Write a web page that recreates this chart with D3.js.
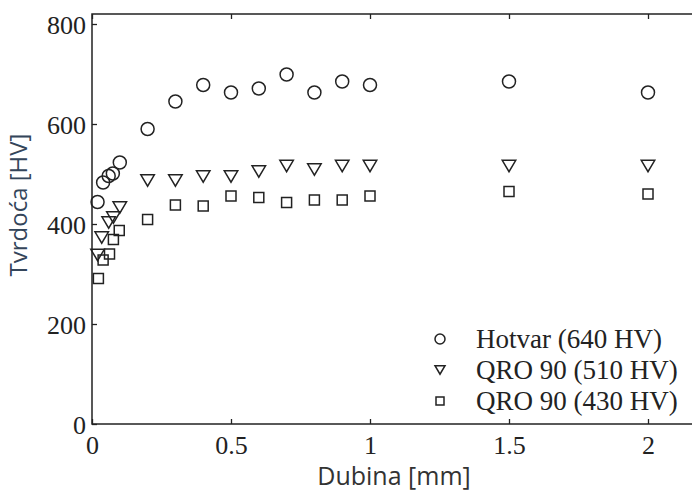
<!DOCTYPE html>
<html lang="en">
<head>
<meta charset="UTF-8">
<title>Tvrdoća vs dubina</title>
<style>
    body { margin: 0; background: #fff; }
    .tick text { font-family: "Liberation Serif", "Times New Roman", serif; font-size: 26px; fill: #222; }
    .title { font-family: "Open Sans", "Noto Sans", sans-serif; font-size: 25px; }
    .legend text { font-family: "Liberation Serif", "Times New Roman", serif; font-size: 27px; fill: #222; }
</style>
</head>
<body>
<div id="chart"></div>
<script src="https://d3js.org/d3.v7.min.js"></script>
<script>
    // depth [mm] and hardness [HV]
    const hotvarDepth = [0.02, 0.04, 0.06, 0.075, 0.1, 0.2, 0.3, 0.4, 0.5, 0.6, 0.7, 0.8, 0.9, 1.0, 1.5, 2.0];
    const hotvarHV    = [444, 483, 496, 501, 523, 590, 645, 678, 663, 671, 699, 663, 685, 678, 685, 663];

    const qro510Depth = [0.02, 0.035, 0.06, 0.077, 0.1, 0.2, 0.3, 0.4, 0.5, 0.6, 0.7, 0.8, 0.9, 1.0, 1.5, 2.0];
    const qro510HV    = [338, 373, 403, 413, 433, 487, 487, 495, 495, 505, 516, 509, 516, 516, 516, 516];

    const qro430Depth = [0.023, 0.04, 0.063, 0.077, 0.098, 0.2, 0.3, 0.4, 0.5, 0.6, 0.7, 0.8, 0.9, 1.0, 1.5, 2.0];
    const qro430HV    = [291, 328, 340, 369, 387, 409, 438, 436, 456, 453, 443, 448, 448, 456, 465, 460];

    const xTicks = [0, 0.5, 1, 1.5, 2];
    const yTicks = [0, 200, 400, 600, 800];
    const legendLabels = ["Hotvar (640 HV)", "QRO 90 (510 HV)", "QRO 90 (430 HV)"];

    const W = 692, H = 491;
    const svg = d3.select("#chart").append("svg")
        .attr("width", W)
        .attr("height", H);

    const x = d3.scaleLinear().domain([0, 2.2]).range([92, 92 + 278 * 2.2]);
    const y = d3.scaleLinear().domain([0, 820]).range([424, 14]);

    const ink = "#222";

    // frame
    svg.append("rect")
        .attr("x", x(0)).attr("y", y(820))
        .attr("width", x(2.2) - x(0)).attr("height", y(0) - y(820))
        .attr("fill", "none").attr("stroke", ink).attr("stroke-width", 1.5);

    // axes, ticks pointing inward, mirrored on the top edge
    const xAxis = svg.append("g")
        .attr("transform", `translate(0,${y(0)})`)
        .call(d3.axisBottom(x).tickValues(xTicks).tickSize(-5).tickPadding(10)
            .tickFormat(d => d === 0 ? "0" : d3.format("")(d)));
    const xTop = svg.append("g")
        .attr("transform", `translate(0,${y(820)})`)
        .call(d3.axisTop(x).tickValues(xTicks).tickSize(-5).tickFormat(""));
    const yAxis = svg.append("g")
        .attr("transform", `translate(${x(0)},0)`)
        .call(d3.axisLeft(y).tickValues(yTicks).tickSize(-5).tickPadding(6));
    [xAxis, xTop, yAxis].forEach(a => {
        a.select(".domain").remove();
        a.selectAll(".tick line").attr("stroke", ink).attr("stroke-width", 1.3);
    });
    xAxis.selectAll(".tick text").attr("dy", "0.78em");
    yAxis.selectAll(".tick text").attr("dy", "0.35em");

    // axis titles
    svg.append("text")
        .attr("class", "title")
        .attr("x", 394).attr("y", 485)
        .attr("text-anchor", "middle")
        .attr("fill", "#333")
        .text("Dubina [mm]");
    svg.append("text")
        .attr("class", "title")
        .attr("transform", "translate(27,205) rotate(-90)")
        .attr("text-anchor", "middle")
        .attr("fill", "#34455a")
        .style("font-size", "24px")
        .text("Tvrdoća [HV]");

    // marker shapes (centred on their box)
    function circle(r) { return d3.symbol().type(d3.symbolCircle).size(Math.PI * r * r)(); }
    function square(s) { return `M${-s / 2},${-s / 2}h${s}v${s}h${-s}Z`; }
    function triDown(w) {
        const h = w * 0.85;
        return `M${-w / 2},${-h / 2}L${w / 2},${-h / 2}L0,${h / 2}Z`;
    }

    const series = [
        { depth: hotvarDepth, hv: hotvarHV, shape: circle(6.5), legend: circle(5) },
        { depth: qro510Depth, hv: qro510HV, shape: triDown(13.5), legend: triDown(10) },
        { depth: qro430Depth, hv: qro430HV, shape: square(10), legend: square(8) }
    ];

    series.forEach(s => {
        svg.append("g").selectAll("path")
            .data(s.depth.map((d, i) => [d, s.hv[i]]))
            .enter().append("path")
            .attr("d", s.shape)
            .attr("transform", d => `translate(${x(d[0])},${y(d[1])})`)
            .attr("fill", "none")
            .attr("stroke", ink)
            .attr("stroke-width", 1.5);
    });

    // legend
    const legend = svg.append("g").attr("class", "legend");
    legendLabels.forEach((label, i) => {
        const row = legend.append("g")
            .attr("transform", `translate(440,${339 + i * 31})`);
        row.append("path")
            .attr("d", series[i].legend)
            .attr("fill", "none")
            .attr("stroke", ink)
            .attr("stroke-width", 1.5);
        row.append("text")
            .attr("x", 36)
            .attr("dy", "0.35em")
            .text(label);
    });
</script>
</body>
</html>
